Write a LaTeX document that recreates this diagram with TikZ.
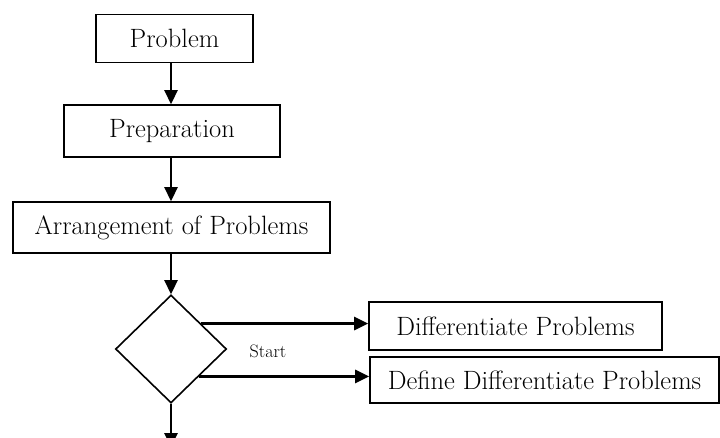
\documentclass[tikz,border=0pt]{standalone}
\usepackage{fontspec}
\setmainfont{Latin Modern Roman}
\usetikzlibrary{shapes.geometric,arrows.meta,calc}
\begin{document}
\begin{tikzpicture}[x=1pt,y=-1pt,
  boxnode/.style={draw,line width=1.6pt,inner sep=0pt,anchor=center,font=\fontsize{26.5}{30}\selectfont},
  arr/.style={line width=2.6pt,-{Triangle[width=13pt,length=14pt]}},
  decision/.style={draw,diamond,line width=1.6pt,inner sep=0pt}]
\useasboundingbox (0,0) rectangle (720,437);
\node[boxnode,minimum width=157pt,minimum height=48pt] (prob) at (174.5,38.5) {Problem};
\node[boxnode,minimum width=216pt,minimum height=52pt] (prep) at (172,131) {Preparation};
\node[boxnode,minimum width=317pt,minimum height=51pt] (arr) at (171.5,227.5) {Arrangement of Problems};
\node[decision,minimum width=111pt,minimum height=108pt] (dia) at (171,349) {};
\node[boxnode,minimum width=293pt,minimum height=48pt] (diff) at (515.5,326) {Differentiate Problems};
\node[boxnode,minimum width=349pt,minimum height=46pt] (def) at (544.5,380) {Define Differentiate Problems};
\node[font=\fontsize{18}{22}\selectfont,inner sep=0pt] (start) at (268,351) {Start};
\coordinate (out) at (171,447);
\coordinate (up) at ($(dia.north east)+(2,2)$);
\draw[arr] (prob.south -| dia.north) -- (prep.north -| dia.north);
\draw[arr] (prep.south -| dia.north) -- (arr.north -| dia.north);
\draw[arr] (arr.south -| dia.north) -- (dia.north);
\draw[arr] (up) -- (diff.west |- up);
\draw[arr] (dia.south east) -- (def.west |- dia.south east);
\draw[arr] (dia.south) -- (out);
\end{tikzpicture}
\end{document}
